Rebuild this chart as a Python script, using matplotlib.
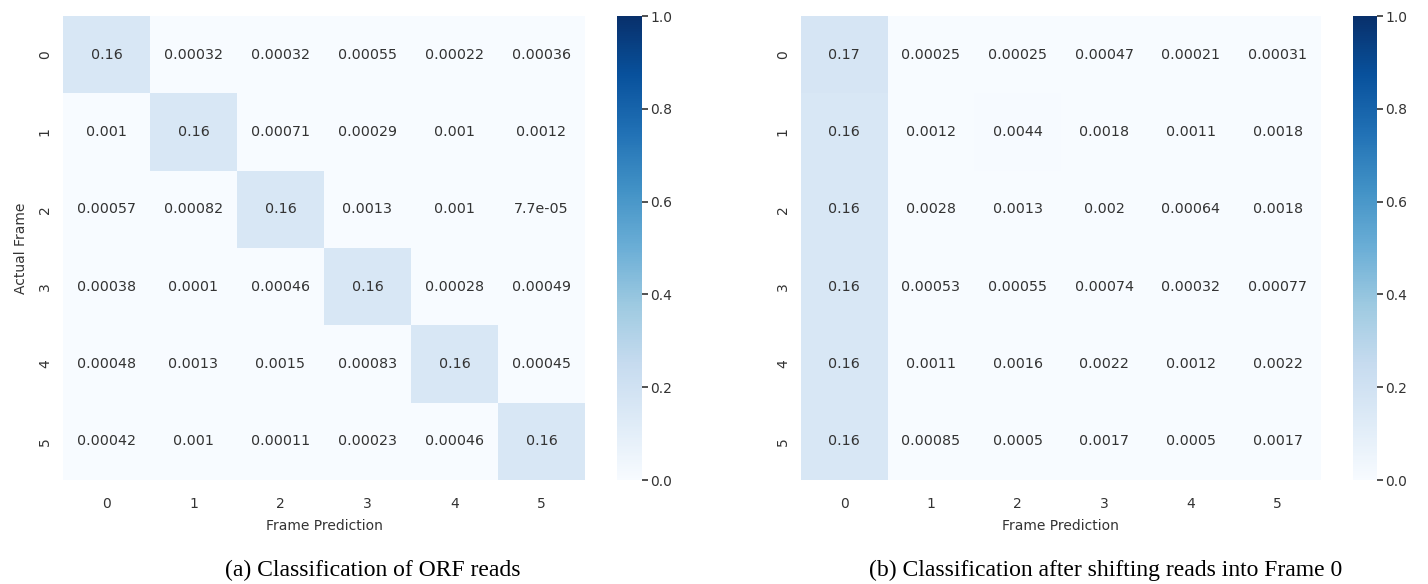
import numpy as np
import matplotlib.pyplot as plt
import seaborn as sns

frames = [0, 1, 2, 3, 4, 5]

# confusion matrix, ORF reads
orf_reads = [
    [0.16, 0.00032, 0.00032, 0.00055, 0.00022, 0.00036],
    [0.001, 0.16, 0.00071, 0.00029, 0.001, 0.0012],
    [0.00057, 0.00082, 0.16, 0.0013, 0.001, 7.7e-05],
    [0.00038, 0.0001, 0.00046, 0.16, 0.00028, 0.00049],
    [0.00048, 0.0013, 0.0015, 0.00083, 0.16, 0.00045],
    [0.00042, 0.001, 0.00011, 0.00023, 0.00046, 0.16],
]

# confusion matrix, reads shifted into frame 0
shifted_reads = [
    [0.17, 0.00025, 0.00025, 0.00047, 0.00021, 0.00031],
    [0.16, 0.0012, 0.0044, 0.0018, 0.0011, 0.0018],
    [0.16, 0.0028, 0.0013, 0.002, 0.00064, 0.0018],
    [0.16, 0.00053, 0.00055, 0.00074, 0.00032, 0.00077],
    [0.16, 0.0011, 0.0016, 0.0022, 0.0012, 0.0022],
    [0.16, 0.00085, 0.0005, 0.0017, 0.0005, 0.0017],
]

captions = ["(a) Classification of ORF reads",
            "(b) Classification after shifting reads into Frame 0"]
caption_x = [0.261, 0.774]

text_color = "#333333"
plt.rcParams["font.family"] = "DejaVu Sans"

fig = plt.figure(figsize=(14.28, 5.84), dpi=100)

panels = [
    (orf_reads, [0.0441, 0.178, 0.3655, 0.7945], [0.4321, 0.178, 0.0175, 0.7945], True),
    (shifted_reads, [0.5609, 0.178, 0.3641, 0.7945], [0.9475, 0.178, 0.0168, 0.7945], False),
]

for i, (matrix, ax_pos, cb_pos, show_ylabel) in enumerate(panels):
    ax = fig.add_axes(ax_pos)
    cax = fig.add_axes(cb_pos)
    sns.heatmap(np.array(matrix), ax=ax, cbar_ax=cax, cmap="Blues",
                vmin=0, vmax=1, annot=True, fmt=".2g",
                annot_kws={"fontsize": 10.3, "color": text_color},
                xticklabels=frames, yticklabels=frames)
    ax.tick_params(axis="x", length=0, labelsize=10, labelcolor=text_color, pad=12)
    ax.tick_params(axis="y", length=0, labelsize=10, labelcolor=text_color, pad=8)
    ax.set_yticklabels(frames, rotation=90, va="center")
    ax.set_xlabel("Frame Prediction", fontsize=10, color=text_color, labelpad=6)
    if show_ylabel:
        ax.set_ylabel("Actual Frame", fontsize=10, color=text_color, labelpad=7)
    cax.tick_params(length=4, width=1.2, color=text_color,
                    labelsize=10, labelcolor=text_color, pad=2)
    cax.set_yticks([0, 0.2, 0.4, 0.6, 0.8, 1.0])
    for spine in cax.spines.values():
        spine.set_visible(False)
    fig.text(caption_x[i], 0.024, captions[i], ha="center", va="center",
             fontsize=17, family="Liberation Serif", color="black")

fig.savefig("out.png", dpi=100)
